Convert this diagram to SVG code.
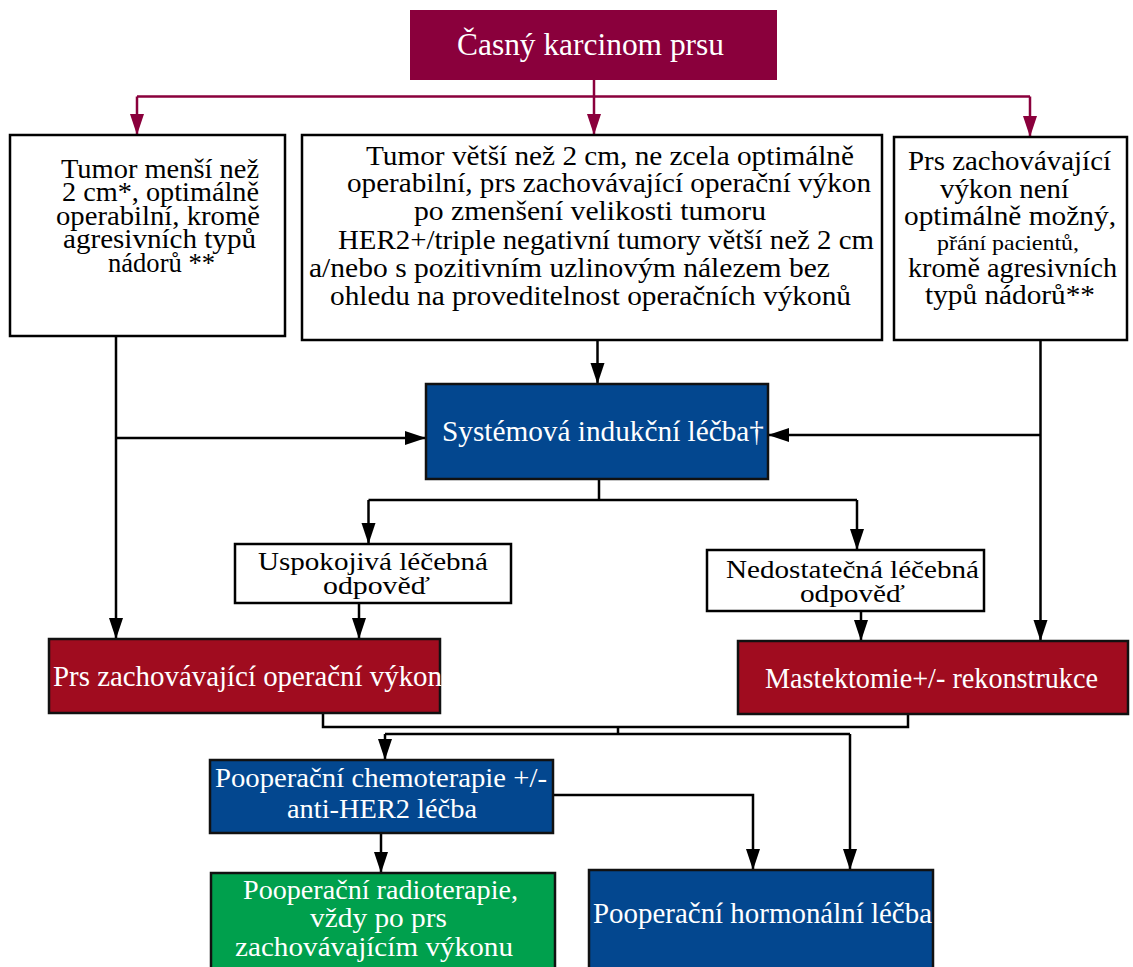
<svg xmlns="http://www.w3.org/2000/svg" width="1133" height="967" viewBox="0 0 1133 967">
<style>
  text { font-family: "Liberation Serif", "Times New Roman", serif; }
  .blk { fill: #000; font-size: 27px; }
  .wht { fill: #fff; font-size: 29px; }
  .wbox { fill: #fff; stroke: #000; stroke-width: 2.5; }
  .cbox { stroke: #111; stroke-width: 2.5; }
  .maroon { fill: #8A003C; }
  .crimson { fill: #A00C1F; }
  .blue { fill: #03478F; }
  .green { fill: #00A04D; }
  .con { fill: none; stroke: #000; stroke-width: 2.5; }
  .mcon { fill: none; stroke: #8A003C; stroke-width: 2.5; }
</style>
<defs>
  <marker id="ah" markerUnits="userSpaceOnUse" markerWidth="22" markerHeight="15" refX="21" refY="7" orient="auto">
    <path d="M0,0 L21,7 L0,14 Z" fill="#000"/>
  </marker>
  <marker id="ahm" markerUnits="userSpaceOnUse" markerWidth="22" markerHeight="15" refX="21" refY="7" orient="auto">
    <path d="M0,0 L21,7 L0,14 Z" fill="#8A003C"/>
  </marker>
</defs>
<rect width="1133" height="967" fill="#fff"/>

<g id="connectors">
  <path class="mcon" d="M594,80 V96.5 M137,96.5 H1030"/>
  <path class="mcon" d="M137,96.5 V135" marker-end="url(#ahm)"/>
  <path class="mcon" d="M594,96.5 V135" marker-end="url(#ahm)"/>
  <path class="mcon" d="M1030,96.5 V137" marker-end="url(#ahm)"/>

  <path class="con" d="M116,336 V639" marker-end="url(#ah)"/>
  <path class="con" d="M116,438 H426" marker-end="url(#ah)"/>
  <path class="con" d="M597.5,340 V384" marker-end="url(#ah)"/>
  <path class="con" d="M1040.5,340 V641" marker-end="url(#ah)"/>
  <path class="con" d="M1040.5,435 H768" marker-end="url(#ah)"/>
  <path class="con" d="M599,479 V500 M368.5,500 H857"/>
  <path class="con" d="M368.5,500 V544" marker-end="url(#ah)"/>
  <path class="con" d="M857,500 V550" marker-end="url(#ah)"/>
  <path class="con" d="M359,602 V639" marker-end="url(#ah)"/>
  <path class="con" d="M861,611 V641" marker-end="url(#ah)"/>
  <path class="con" d="M323,713 V727 H908 V714"/>
  <path class="con" d="M618,727 V734 M385,734 H850"/>
  <path class="con" d="M385,734 V760" marker-end="url(#ah)"/>
  <path class="con" d="M850,734 V870" marker-end="url(#ah)"/>
  <path class="con" d="M553,795 H753 V870" marker-end="url(#ah)"/>
  <path class="con" d="M381,833 V873" marker-end="url(#ah)"/>
</g>

<g id="n-early">
  <rect class="maroon" x="410" y="10" width="367" height="70"/>
  <text class="wht" x="457" y="55" style="font-size:32px" textLength="267" lengthAdjust="spacingAndGlyphs">Časný karcinom prsu</text>
</g>

<g id="n-small">
  <rect class="wbox" x="10" y="135" width="275" height="201"/>
  <text class="blk" x="61" y="177.5" textLength="198" lengthAdjust="spacingAndGlyphs">Tumor menší než</text>
  <text class="blk" x="62" y="201" textLength="197" lengthAdjust="spacingAndGlyphs">2 cm*, optimálně</text>
  <text class="blk" x="56" y="224.5" textLength="204" lengthAdjust="spacingAndGlyphs">operabilní, kromě</text>
  <text class="blk" x="63" y="248" textLength="193" lengthAdjust="spacingAndGlyphs">agresivních typů</text>
  <text class="blk" x="108" y="271.5" textLength="107" lengthAdjust="spacingAndGlyphs">nádorů **</text>
</g>

<g id="n-large">
  <rect class="wbox" x="302" y="135" width="580" height="205"/>
  <text class="blk" x="366" y="165" textLength="488" lengthAdjust="spacingAndGlyphs">Tumor větší než 2 cm, ne zcela optimálně</text>
  <text class="blk" x="347" y="192" textLength="524" lengthAdjust="spacingAndGlyphs">operabilní, prs zachovávající operační výkon</text>
  <text class="blk" x="414" y="220" textLength="352" lengthAdjust="spacingAndGlyphs">po zmenšení velikosti tumoru</text>
  <text class="blk" x="338" y="249" textLength="536" lengthAdjust="spacingAndGlyphs">HER2+/triple negativní tumory větší než 2 cm</text>
  <text class="blk" x="309" y="277" textLength="521" lengthAdjust="spacingAndGlyphs">a/nebo s pozitivním uzlinovým nálezem bez</text>
  <text class="blk" x="330" y="305" textLength="521" lengthAdjust="spacingAndGlyphs">ohledu na proveditelnost operačních výkonů</text>
</g>

<g id="n-notpossible">
  <rect class="wbox" x="894" y="137" width="233" height="203"/>
  <text class="blk" x="908" y="170" textLength="203" lengthAdjust="spacingAndGlyphs">Prs zachovávající</text>
  <text class="blk" x="940" y="198" textLength="129" lengthAdjust="spacingAndGlyphs">výkon není</text>
  <text class="blk" x="904" y="225" textLength="212" lengthAdjust="spacingAndGlyphs">optimálně možný,</text>
  <text class="blk" x="937" y="250" style="font-size:22px" textLength="142" lengthAdjust="spacingAndGlyphs">přání pacientů,</text>
  <text class="blk" x="908" y="277" textLength="209" lengthAdjust="spacingAndGlyphs">kromě agresivních</text>
  <text class="blk" x="925" y="304" textLength="170" lengthAdjust="spacingAndGlyphs">typů nádorů**</text>
</g>

<g id="n-systemic">
  <rect class="blue cbox" x="426" y="384" width="342" height="95"/>
  <text class="wht" x="442" y="441" style="font-size:30px" textLength="322" lengthAdjust="spacingAndGlyphs">Systémová indukční léčba†</text>
</g>

<g id="n-good">
  <rect class="wbox" x="235" y="544" width="276" height="59"/>
  <text class="blk" x="258" y="570" style="font-size:26px" textLength="230" lengthAdjust="spacingAndGlyphs">Uspokojivá léčebná</text>
  <text class="blk" x="323" y="594" style="font-size:26px" textLength="107" lengthAdjust="spacingAndGlyphs">odpověď</text>
</g>

<g id="n-poor">
  <rect class="wbox" x="707" y="550" width="277" height="61"/>
  <text class="blk" x="726" y="578" style="font-size:26px" textLength="253" lengthAdjust="spacingAndGlyphs">Nedostatečná léčebná</text>
  <text class="blk" x="800" y="602" style="font-size:26px" textLength="105" lengthAdjust="spacingAndGlyphs">odpověď</text>
</g>

<g id="n-bcs">
  <rect class="crimson cbox" x="49" y="639" width="391" height="74"/>
  <text class="wht" x="53" y="686" textLength="389" lengthAdjust="spacingAndGlyphs">Prs zachovávající operační výkon</text>
</g>

<g id="n-mastectomy">
  <rect class="crimson cbox" x="738" y="641" width="390" height="73"/>
  <text class="wht" x="765" y="688" textLength="333" lengthAdjust="spacingAndGlyphs">Mastektomie+/- rekonstrukce</text>
</g>

<g id="n-chemo">
  <rect class="blue cbox" x="210" y="760" width="343" height="73"/>
  <text class="wht" x="215" y="787" style="font-size:28px" textLength="332" lengthAdjust="spacingAndGlyphs">Pooperační chemoterapie +/-</text>
  <text class="wht" x="287" y="818" style="font-size:28px" textLength="190" lengthAdjust="spacingAndGlyphs">anti-HER2 léčba</text>
</g>

<g id="n-radio">
  <rect class="green cbox" x="211" y="873" width="344" height="100"/>
  <text class="wht" x="243" y="899" style="font-size:28px" textLength="275" lengthAdjust="spacingAndGlyphs">Pooperační radioterapie,</text>
  <text class="wht" x="310" y="927" style="font-size:28px" textLength="137" lengthAdjust="spacingAndGlyphs">vždy po prs</text>
  <text class="wht" x="235" y="956" style="font-size:28px" textLength="278" lengthAdjust="spacingAndGlyphs">zachovávajícím výkonu</text>
</g>

<g id="n-hormonal">
  <rect class="blue cbox" x="589" y="870" width="344" height="103"/>
  <text class="wht" x="593" y="923" textLength="339" lengthAdjust="spacingAndGlyphs">Pooperační hormonální léčba</text>
</g>
</svg>
